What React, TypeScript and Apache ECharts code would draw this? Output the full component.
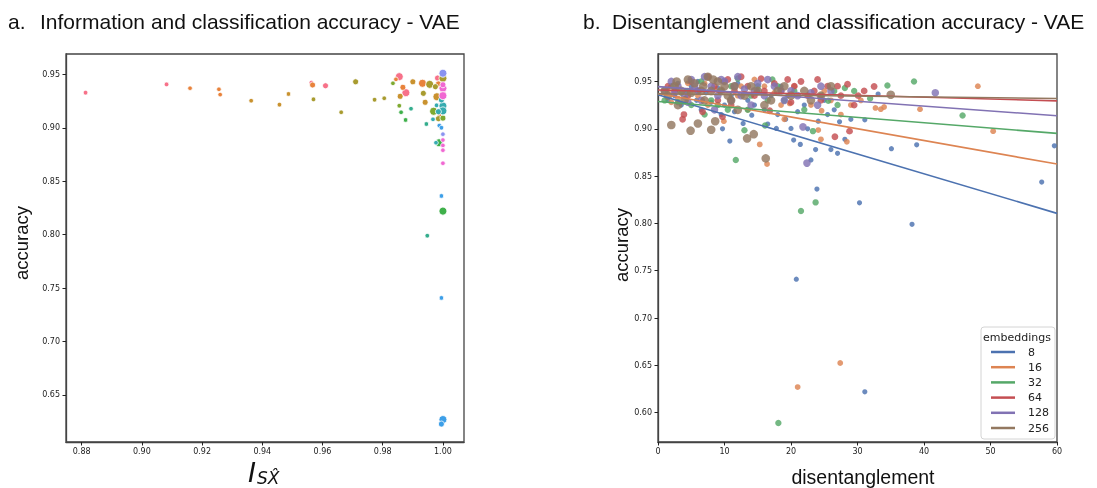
import React, { useEffect, useRef } from "react";
import * as echarts from "echarts";

// ---------- Panel a: information vs accuracy ----------
const leftXTicks = [0.88, 0.9, 0.92, 0.94, 0.96, 0.98, 1.0];
const leftYTicks = [0.65, 0.7, 0.75, 0.8, 0.85, 0.9, 0.95];
const hueColors = [
  "#f77189", "#e8823b", "#c9922f", "#a89b2f", "#7ea930", "#3fb04a",
  "#34ad8d", "#36abb0", "#3d9fe8", "#8a93f0", "#f068d2",
];
// each point: [I_SX, accuracy, level]
const hue0 = [[0.8813, 0.9328, 0], [0.9082, 0.9406, 0], [0.9563, 0.9422, 0], [0.961, 0.9393, 1], [0.9855, 0.9478, 2], [0.9877, 0.9328, 2], [0.9982, 0.9465, 1], [1.0, 0.933, 1]];
const hue1 = [[0.916, 0.937, 0], [0.9256, 0.936, 0], [0.926, 0.931, 0], [0.9567, 0.94, 1], [0.9844, 0.9453, 0], [0.9867, 0.9378, 1], [0.9932, 0.9416, 2], [0.9985, 0.941, 1], [0.9988, 0.912, 0]];
const hue2 = [[0.9363, 0.9253, 0], [0.9457, 0.9216, 0], [0.9487, 0.9316, 0], [0.9858, 0.9294, 1], [0.99, 0.943, 1], [0.998, 0.929, 2], [0.9941, 0.9238, 1]];
const hue3 = [[0.957, 0.9266, 0], [0.9662, 0.9145, 0], [0.971, 0.943, 1], [0.9773, 0.9262, 0], [0.9805, 0.9276, 0], [0.9956, 0.9406, 2], [0.9935, 0.9322, 1], [0.9975, 0.9384, 1], [1.0, 0.9463, 2], [0.9985, 0.9085, 1]];
const hue4 = [[0.9834, 0.9416, 0], [0.9855, 0.9206, 0], [0.9969, 0.9154, 2], [1.0, 0.909, 1]];
const hue5 = [[0.9861, 0.9145, 0], [0.9876, 0.9073, 0], [0.9987, 0.886, 2], [1.0, 0.822, 2]];
const hue6 = [[0.9894, 0.9178, 0], [0.9945, 0.9035, 0], [0.9948, 0.799, 0]];
const hue7 = [[0.9967, 0.9079, 0], [0.9979, 0.921, 0], [1.0, 0.9204, 2], [1.0, 0.9158, 2], [0.9985, 0.915, 1], [0.9977, 0.886, 0], [0.9995, 0.926, 1]];
const hue8 = [[0.9988, 0.902, 0], [0.9995, 0.9, 0], [0.9995, 0.8362, 0], [0.9995, 0.7408, 0], [1.0, 0.627, 2], [0.9995, 0.6228, 1]];
const hue9 = [[1.0, 0.894, 0], [1.0, 0.951, 2]];
const hue10 = [[1.0, 0.937, 2], [1.0, 0.93, 2], [1.0, 0.9402, 1], [1.0, 0.8885, 0], [1.0, 0.8835, 0], [1.0, 0.879, 0], [1.0, 0.8668, 0]];
const hueGroups = [hue0, hue1, hue2, hue3, hue4, hue5, hue6, hue7, hue8, hue9, hue10];

// ---------- Panel b: disentanglement vs accuracy ----------
const rightXTicks = [0, 10, 20, 30, 40, 50, 60];
const rightYTicks = [0.6, 0.65, 0.7, 0.75, 0.8, 0.85, 0.9, 0.95];
const embeddings = ["8", "16", "32", "64", "128", "256"];
const embColors = ["#4c72b0", "#dd8452", "#55a868", "#c44e52", "#8172b3", "#937860"];
// [disentanglement, accuracy]
const emb8 = [[1.5, 0.93], [2.5, 0.935], [3.0, 0.948], [3.5, 0.925], [4.2, 0.94], [5.0, 0.945], [5.8, 0.93], [6.0, 0.95], [6.5, 0.92], [7.2, 0.938], [8.0, 0.928], [9.0, 0.943], [9.5, 0.915], [9.7, 0.9], [10.0, 0.925], [10.8, 0.887], [11.0, 0.935], [11.5, 0.918], [12.0, 0.948], [12.8, 0.9056], [13.5, 0.93], [14.1, 0.9144], [14.5, 0.925], [15.0, 0.94], [16.0, 0.92], [16.5, 0.905], [17.0, 0.935], [17.8, 0.9004], [18.0, 0.915], [18.5, 0.945], [19.2, 0.91], [19.5, 0.935], [20.0, 0.9004], [20.4, 0.888], [20.8, 0.741], [21.0, 0.918], [21.4, 0.8835], [22.0, 0.925], [22.5, 0.9], [23.0, 0.867], [23.7, 0.878], [23.9, 0.8363], [24.1, 0.908], [25.0, 0.93], [25.5, 0.915], [26.0, 0.878], [26.5, 0.92], [27.0, 0.874], [27.3, 0.9073], [28.1, 0.8888], [29.0, 0.91], [30.3, 0.8218], [31.1, 0.9095], [31.1, 0.622], [33.1, 0.9366], [35.1, 0.879], [38.2, 0.799], [38.9, 0.883], [57.7, 0.8437], [59.6, 0.882]];
const emb16 = [[1.5, 0.94], [2.0, 0.928], [3.0, 0.932], [4.5, 0.948], [5.0, 0.94], [6.0, 0.935], [7.0, 0.948], [7.5, 0.925], [8.5, 0.942], [9.9, 0.908], [10.0, 0.95], [11.0, 0.93], [12.0, 0.935], [12.5, 0.945], [13.5, 0.92], [14.5, 0.952], [15.3, 0.8835], [16.0, 0.945], [16.4, 0.8627], [17.5, 0.938], [18.5, 0.925], [19.0, 0.91], [19.8, 0.9268], [20.5, 0.945], [21.0, 0.627], [22.5, 0.935], [23.0, 0.925], [24.1, 0.8986], [24.5, 0.8888], [24.6, 0.919], [25.0, 0.94], [26.0, 0.93], [27.4, 0.6525], [27.5, 0.915], [28.4, 0.8862], [29.0, 0.925], [30.5, 0.93], [32.7, 0.922], [33.5, 0.9207], [34.0, 0.923], [39.4, 0.9207], [48.1, 0.945], [50.4, 0.8975]];
const emb32 = [[1.0, 0.93], [2.0, 0.945], [3.0, 0.928], [3.5, 0.938], [4.5, 0.94], [5.0, 0.925], [6.5, 0.95], [7.0, 0.915], [8.0, 0.93], [9.0, 0.925], [9.5, 0.94], [10.5, 0.92], [11.0, 0.945], [11.7, 0.867], [12.0, 0.953], [13.0, 0.8985], [13.5, 0.92], [14.0, 0.935], [15.0, 0.945], [16.1, 0.9035], [16.5, 0.93], [17.2, 0.952], [18.0, 0.945], [18.1, 0.589], [19.0, 0.93], [20.5, 0.94], [21.5, 0.813], [22.0, 0.92], [23.3, 0.8975], [23.7, 0.8222], [24.5, 0.935], [25.6, 0.9295], [26.5, 0.94], [27.0, 0.925], [28.1, 0.943], [29.5, 0.94], [31.9, 0.932], [34.5, 0.9458], [38.5, 0.95], [45.8, 0.914]];
const emb64 = [[1.5, 0.945], [2.5, 0.94], [3.7, 0.91], [3.9, 0.915], [4.5, 0.935], [5.0, 0.95], [6.0, 0.94], [6.7, 0.918], [7.5, 0.955], [8.5, 0.945], [9.0, 0.93], [9.7, 0.9126], [10.5, 0.952], [11.0, 0.925], [11.5, 0.94], [12.5, 0.955], [13.5, 0.945], [14.5, 0.935], [15.5, 0.953], [16.0, 0.94], [16.8, 0.919], [17.5, 0.948], [18.5, 0.94], [19.5, 0.952], [20.0, 0.928], [20.5, 0.945], [21.5, 0.95], [22.5, 0.935], [23.5, 0.94], [24.0, 0.952], [24.5, 0.93], [25.5, 0.945], [26.6, 0.8915], [27.0, 0.945], [27.5, 0.935], [28.5, 0.947], [28.8, 0.8975], [29.5, 0.925], [30.1, 0.935], [31.0, 0.94], [32.5, 0.9447]];
const emb128 = [[1.0, 0.94], [2.0, 0.95], [2.5, 0.938], [3.0, 0.945], [4.0, 0.935], [4.5, 0.928], [5.0, 0.952], [5.5, 0.945], [6.0, 0.94], [6.5, 0.93], [7.0, 0.955], [8.0, 0.945], [8.5, 0.92], [9.0, 0.935], [9.5, 0.952], [10.0, 0.95], [11.0, 0.93], [11.5, 0.945], [12.0, 0.955], [12.5, 0.935], [13.0, 0.942], [14.0, 0.925], [14.5, 0.94], [15.0, 0.948], [16.0, 0.935], [16.5, 0.952], [17.5, 0.945], [18.5, 0.94], [19.0, 0.93], [20.0, 0.94], [21.0, 0.935], [21.8, 0.902], [22.4, 0.8637], [23.0, 0.938], [24.0, 0.925], [24.5, 0.945], [26.0, 0.94], [41.7, 0.938]];
const emb256 = [[1.0, 0.94], [1.5, 0.935], [2.0, 0.904], [2.5, 0.945], [2.8, 0.95], [3.0, 0.925], [3.5, 0.94], [4.0, 0.93], [4.5, 0.952], [4.9, 0.898], [5.0, 0.938], [5.5, 0.948], [6.0, 0.9056], [6.5, 0.94], [6.8, 0.945], [7.0, 0.93], [7.5, 0.955], [8.0, 0.899], [8.0, 0.94], [8.3, 0.952], [8.6, 0.908], [9.0, 0.95], [9.5, 0.94], [10.0, 0.945], [10.5, 0.935], [11.0, 0.93], [11.5, 0.945], [12.0, 0.92], [13.0, 0.935], [13.4, 0.8898], [14.0, 0.945], [14.4, 0.8943], [15.0, 0.94], [16.0, 0.925], [16.2, 0.8687], [17.0, 0.93], [18.0, 0.94], [19.0, 0.945], [20.0, 0.935], [22.0, 0.94], [23.0, 0.93], [24.5, 0.935], [26.0, 0.945], [35.0, 0.936]];
const embGroups = [emb8, emb16, emb32, emb64, emb128, emb256];
// fitted regression line: accuracy at disentanglement 0 and 60
const fitX = [0, 60];
const fitStart = [0.936, 0.9372, 0.9288, 0.941, 0.9445, 0.937];
const fitEnd = [0.8106, 0.8627, 0.8951, 0.9295, 0.9137, 0.932];

const levelSize = [4.6, 6, 8];
const embSize = [5.2, 5.8, 6.4, 6.8, 7.6, 8.6];

const TICK_FONT = "DejaVu Sans";
const SANS = "Liberation Sans";

function axisCommon() {
  return {
    axisLine: { show: true, lineStyle: { color: "#444", width: 1.3 } },
    splitLine: { show: false },
  };
}

export default function App() {
  const ref = useRef<HTMLDivElement>(null);
  useEffect(() => {
    if (!ref.current) return;
    const chart = echarts.init(ref.current, null, { renderer: "svg" });

    const leftSeries = hueGroups.map((pts, i) => ({
      type: "scatter",
      xAxisIndex: 0,
      yAxisIndex: 0,
      data: pts,
      symbol: "circle",
      symbolSize: (v: number[]) => levelSize[v[2]],
      itemStyle: { color: hueColors[i], borderColor: "#fff", borderWidth: 0.8, opacity: 1 },
      z: 3,
    }));

    const rightScatter = embGroups.map((pts, i) => ({
      type: "scatter",
      name: "pts" + embeddings[i],
      xAxisIndex: 1,
      yAxisIndex: 1,
      data: pts,
      symbol: "circle",
      symbolSize: embSize[i],
      itemStyle: { color: embColors[i], opacity: 0.82 },
      z: 3,
    }));

    const rightLines = embeddings.map((name, i) => ({
      type: "line",
      name,
      xAxisIndex: 1,
      yAxisIndex: 1,
      data: [
        [fitX[0], fitStart[i]],
        [fitX[1], fitEnd[i]],
      ],
      showSymbol: false,
      symbol: "none",
      lineStyle: { color: embColors[i], width: 1.6 },
      itemStyle: { color: embColors[i] },
      z: 4,
    }));

    const tickLabel = (digits: number) => ({
      fontFamily: TICK_FONT,
      fontSize: 8,
      color: "#222",
      formatter: (v: number) => v.toFixed(digits),
    });
    const tick = (vals: number[]) => ({ show: true, length: 3.5, lineStyle: { color: "#222", width: 1 }, customValues: vals });

    chart.setOption({
      animation: false,
      grid: [
        { left: 66, top: 54, width: 398, height: 388, show: true, borderColor: "#444", borderWidth: 1.3, containLabel: false },
        { left: 658, top: 54, width: 399, height: 388, show: true, borderColor: "#444", borderWidth: 1.3, containLabel: false },
      ],
      xAxis: [
        {
          type: "value", gridIndex: 0, min: 0.8748, max: 1.007,
          ...axisCommon(),
          axisTick: tick(leftXTicks),
          axisLabel: { ...tickLabel(2), margin: 5, customValues: leftXTicks },
        },
        {
          type: "value", gridIndex: 1, min: 0, max: 60, interval: 10,
          ...axisCommon(),
          axisTick: tick(rightXTicks),
          axisLabel: { ...tickLabel(0), margin: 5, customValues: rightXTicks },
        },
      ],
      yAxis: [
        {
          type: "value", gridIndex: 0, min: 0.606, max: 0.969,
          ...axisCommon(),
          axisTick: tick(leftYTicks),
          axisLabel: { ...tickLabel(2), margin: 6, customValues: leftYTicks },
        },
        {
          type: "value", gridIndex: 1, min: 0.569, max: 0.979,
          ...axisCommon(),
          axisTick: tick(rightYTicks),
          axisLabel: { ...tickLabel(2), margin: 6, customValues: rightYTicks },
        },
      ],
      legend: {
        show: true,
        data: embeddings,
        left: 981,
        top: 327,
        orient: "vertical",
        icon: "rect",
        itemWidth: 24,
        itemHeight: 2.5,
        itemGap: 3.2,
        padding: [19, 6, 5, 10],
        backgroundColor: "#fff",
        borderColor: "#d4d4d4",
        borderWidth: 1,
        borderRadius: 3,
        selectedMode: false,
        textStyle: { fontFamily: TICK_FONT, fontSize: 11, color: "#222", lineHeight: 12, padding: [0, 0, 0, 8] },
      },
      graphic: [
        { type: "text", z: 100, style: { text: "a.", x: 8, y: 21, font: `21px "${SANS}"`, fill: "#111", textVerticalAlign: "middle" } },
        { type: "text", z: 100, style: { text: "Information and classification accuracy - VAE", x: 40, y: 21, font: `21px "${SANS}"`, fill: "#111", textVerticalAlign: "middle" } },
        { type: "text", z: 100, style: { text: "b.", x: 583, y: 21, font: `21px "${SANS}"`, fill: "#111", textVerticalAlign: "middle" } },
        { type: "text", z: 100, style: { text: "Disentanglement and classification accuracy - VAE", x: 612, y: 21, font: `21px "${SANS}"`, fill: "#111", textVerticalAlign: "middle" } },
        { type: "text", z: 100, x: 21, y: 243, rotation: Math.PI / 2, style: { text: "accuracy", x: 0, y: 0, font: `18.5px "${SANS}"`, fill: "#111", textAlign: "center", textVerticalAlign: "middle" } },
        { type: "text", z: 100, x: 621, y: 245, rotation: Math.PI / 2, style: { text: "accuracy", x: 0, y: 0, font: `18.5px "${SANS}"`, fill: "#111", textAlign: "center", textVerticalAlign: "middle" } },
        { type: "text", z: 100, style: { text: "disentanglement", x: 863, y: 477, font: `19.5px "${SANS}"`, fill: "#111", textAlign: "center", textVerticalAlign: "middle" } },
        { type: "text", z: 100, style: { text: "I", x: 248, y: 472, font: `italic 27px "DejaVu Sans"`, fill: "#111", textVerticalAlign: "middle" } },
        { type: "text", z: 100, style: { text: "SX\u0302", x: 257, y: 478, font: `italic 17px "DejaVu Sans"`, fill: "#111", textVerticalAlign: "middle" } },
        { type: "text", z: 100, style: { text: "embeddings", x: 1017, y: 337, font: `11px "${TICK_FONT}"`, fill: "#222", textAlign: "center", textVerticalAlign: "middle" } },
      ],
      series: [...leftSeries, ...rightScatter, ...rightLines],
    });

    return () => chart.dispose();
  }, []);

  return <div ref={ref} style={{ position: "fixed", left: 0, top: 0, width: 1097, height: 488 }} />;
}
